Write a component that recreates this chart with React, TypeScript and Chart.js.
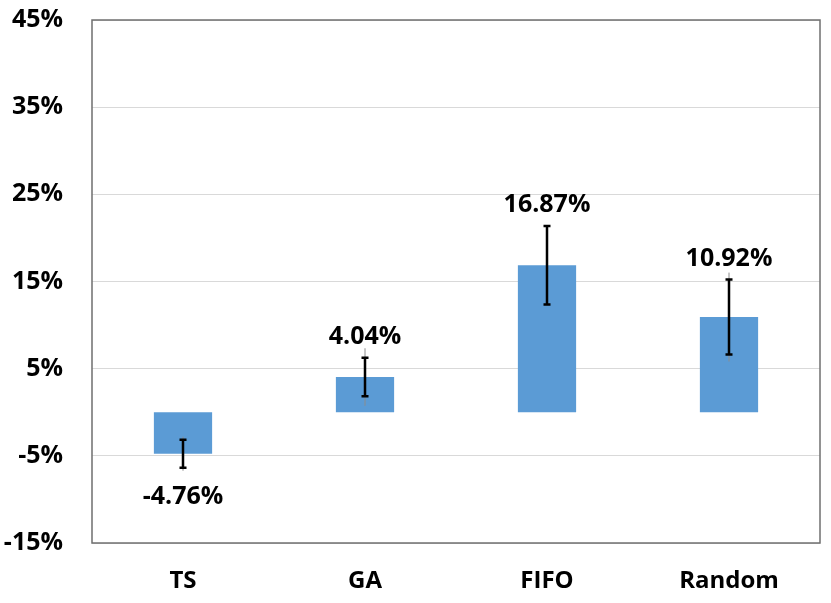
import React, { useEffect, useRef } from "react";
import { Chart, registerables } from "chart.js";

Chart.register(...registerables);

const categories = ["TS", "GA", "FIFO", "Random"];
const values = [-4.76, 4.04, 16.87, 10.92];
const errInner = [1.6, 2.2, 4.5, 4.3];
const errOuter = [1.95, 3.3, 4.6, 5.1];
const yTicks = [-15, -5, 5, 15, 25, 35, 45];

const FONT = "'Open Sans', 'DejaVu Sans', sans-serif";

const errorBarPlugin = {
  id: "errorBars",
  afterDatasetsDraw(chart: any) {
    const ctx = chart.ctx;
    const meta = chart.getDatasetMeta(0);
    const ys = chart.scales.y;
    ctx.save();
    meta.data.forEach((bar: any, i: number) => {
      const x = bar.x;
      const v = values[i];
      ctx.strokeStyle = "#8c8c8c";
      ctx.lineWidth = 1;
      ctx.beginPath();
      ctx.moveTo(x, ys.getPixelForValue(v - errOuter[i]));
      ctx.lineTo(x, ys.getPixelForValue(v + errOuter[i]));
      ctx.stroke();
      const yTop = ys.getPixelForValue(v + errInner[i]);
      const yBot = ys.getPixelForValue(v - errInner[i]);
      ctx.strokeStyle = "#000000";
      ctx.lineWidth = 2.5;
      ctx.beginPath();
      ctx.moveTo(x, yTop);
      ctx.lineTo(x, yBot);
      ctx.moveTo(x - 3.5, yTop);
      ctx.lineTo(x + 3.5, yTop);
      ctx.moveTo(x - 3.5, yBot);
      ctx.lineTo(x + 3.5, yBot);
      ctx.stroke();
    });
    ctx.restore();
  },
  afterDraw(chart: any) {
    const ctx = chart.ctx;
    const meta = chart.getDatasetMeta(0);
    const ys = chart.scales.y;
    const a = chart.chartArea;
    ctx.save();
    ctx.strokeStyle = "#6f6f6f";
    ctx.lineWidth = 1.5;
    ctx.strokeRect(a.left, a.top, a.right - a.left, a.bottom - a.top);
    ctx.fillStyle = "#000000";
    ctx.font = `bold 25px ${FONT}`;
    ctx.textAlign = "center";
    ctx.textBaseline = "alphabetic";
    meta.data.forEach((bar: any, i: number) => {
      const v = values[i];
      const label = v.toFixed(2) + "%";
      if (v >= 0) {
        ctx.fillText(label, bar.x, ys.getPixelForValue(v + errInner[i]) - 14);
      } else {
        ctx.fillText(label, bar.x, ys.getPixelForValue(v - errInner[i]) + 36);
      }
    });
    ctx.restore();
  },
};

export default function App() {
  const ref = useRef<HTMLCanvasElement | null>(null);
  useEffect(() => {
    document.body.style.margin = "0";
    const chart = new Chart(ref.current as HTMLCanvasElement, {
      type: "bar",
      data: {
        labels: categories,
        datasets: [
          {
            data: values,
            backgroundColor: "#5b9bd5",
            borderWidth: 0,
            categoryPercentage: 1,
            barPercentage: 0.32,
          },
        ],
      },
      options: {
        animation: false,
        responsive: false,
        layout: { padding: { top: 20, right: 11, left: 0, bottom: 0 } },
        plugins: { legend: { display: false }, tooltip: { enabled: false } },
        scales: {
          x: {
            grid: { display: false, drawTicks: false },
            border: { display: false },
            ticks: {
              color: "#000",
              font: { family: FONT, size: 24, weight: "bold" },
              padding: 24,
            },
            afterFit(scale: any) {
              scale.height = 60;
              scale.paddingLeft = 0;
              scale.paddingRight = 0;
            },
          },
          y: {
            min: -15,
            max: 45,
            afterBuildTicks(scale: any) {
              scale.ticks = yTicks.map((v) => ({ value: v }));
            },
            grid: { color: "#d9d9d9", lineWidth: 1, drawTicks: false },
            border: { display: false },
            ticks: {
              color: "#000",
              font: { family: FONT, size: 25, weight: "bold" },
              padding: 29,
              callback: (v: any) => v + "%",
            },
            afterFit(scale: any) {
              scale.width = 92;
              scale.paddingTop = 0;
              scale.paddingBottom = 0;
            },
          },
        },
      },
      plugins: [errorBarPlugin],
    });
    return () => chart.destroy();
  }, []);
  return (
    <div style={{ width: 831, height: 603 }}>
      <canvas ref={ref} width={831} height={603} />
    </div>
  );
}
